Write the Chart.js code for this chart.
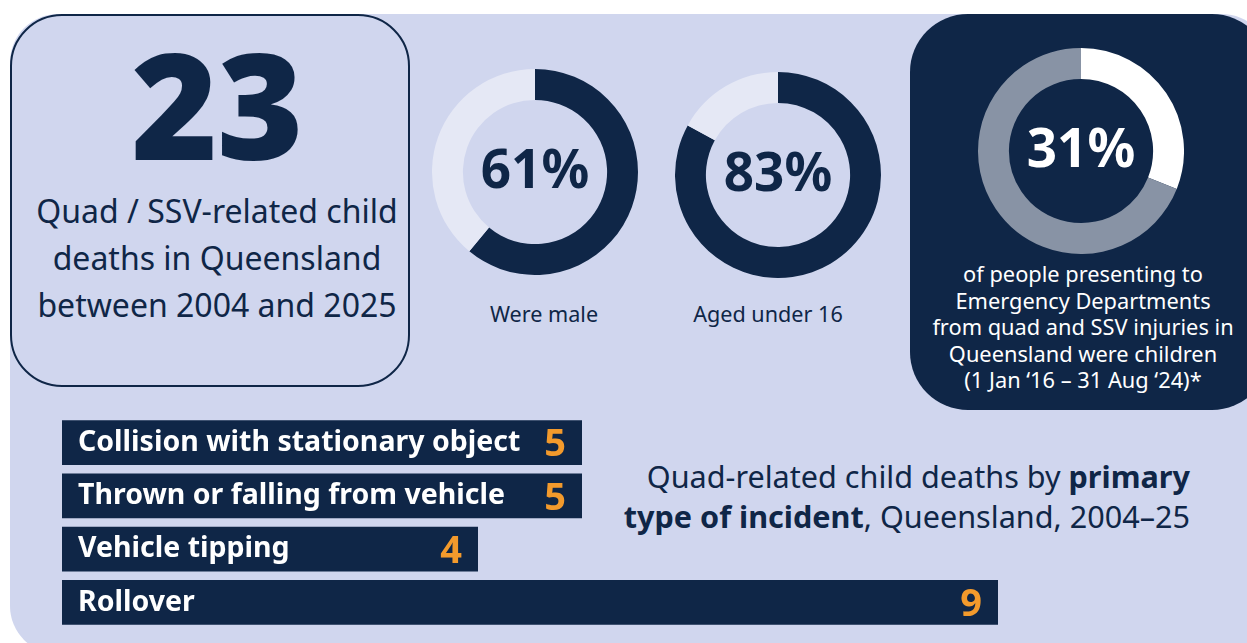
<!DOCTYPE html>
<html>
<head>
<meta charset="utf-8">
<script src="https://cdn.jsdelivr.net/npm/chart.js@4.4.1/dist/chart.umd.min.js"></script>
<style>
  html, body { margin: 0; padding: 0; background: #ffffff; }
  body { width: 1247px; height: 643px; position: relative; overflow: hidden; font-family: "Noto Sans", "Open Sans", sans-serif; color: #0F2647; }
  .panel { position: absolute; left: 10px; top: 14px; width: 1260px; height: 640px; background: #D0D6EE; border-radius: 48px; }
  .box23 { position: absolute; left: 10px; top: 14px; width: 396px; height: 369px; border: 2px solid #0F2647; border-radius: 52px; background: #D0D6EE; }
  .big { position: absolute; left: 5px; width: 400px; top: -3px; text-align: center; font-size: 148px; font-weight: 900; line-height: 180px; letter-spacing: -1px; }
  .desc { position: absolute; left: 6px; width: 398px; top: 171px; text-align: center; font-size: 32px; line-height: 47px; }
  .darkbox { position: absolute; left: 910px; top: 14px; width: 360px; height: 396px; background: #0F2647; border-radius: 58px; }
  .edtext { position: absolute; left: 910px; width: 346px; top: 261px; text-align: center; color: #ffffff; font-size: 21.8px; line-height: 26.5px; }
  .cap { position: absolute; top: 299px; font-size: 21.6px; text-align: center; width: 220px; }
  .title { position: absolute; right: 57px; top: 456px; text-align: right; font-size: 30.6px; line-height: 40px; }
  canvas { position: absolute; }
</style>
</head>
<body>
<div class="panel"></div>
<div class="box23">
  <div class="big" id="total"></div>
  <div class="desc">Quad / SSV-related child<br>deaths in Queensland<br>between 2004 and 2025</div>
</div>
<div class="darkbox"></div>

<canvas id="maleChart" width="206" height="206" style="left:432px; top:69px;"></canvas>
<canvas id="ageChart" width="206" height="206" style="left:675px; top:72px;"></canvas>
<canvas id="edChart" width="206" height="206" style="left:978px; top:48px;"></canvas>

<div class="cap" id="cap0" style="left:434px;"></div>
<div class="cap" id="cap1" style="left:658px;"></div>

<div class="edtext">of people presenting to<br>Emergency Departments<br>from quad and SSV injuries in<br>Queensland were children<br>(1 Jan ‘16 – 31 Aug ‘24)*</div>

<div class="title">Quad-related child deaths by <b>primary<br>type of incident</b>, Queensland, 2004–25</div>

<canvas id="barChart" width="936" height="213" style="left:62px; top:416px;"></canvas>

<script>
// Data
const totalDeaths = 23;

const donutCaptions = ['Were male', 'Aged under 16'];
const malePct = [61, 39];
const under16Pct = [83, 17];
const edChildPct = [31, 69];

const incidentTypes = ['Collision with stationary object', 'Thrown or falling from vehicle', 'Vehicle tipping', 'Rollover'];
const incidentDeaths = [5, 5, 4, 9];

const NAVY = '#0F2647';
const LIGHT = '#E5E8F5';
const ORANGE = '#F39A2C';
const FONT = '"Noto Sans", "Open Sans", sans-serif';

document.getElementById('total').textContent = totalDeaths;
document.getElementById('cap0').textContent = donutCaptions[0];
document.getElementById('cap1').textContent = donutCaptions[1];

// text in the middle of a doughnut
const centerText = {
    id: 'centerText',
    afterDraw(chart, args, opts) {
        const ctx = chart.ctx;
        const meta = chart.getDatasetMeta(0).data[0];
        ctx.save();
        ctx.fillStyle = opts.color;
        ctx.font = 'bold 53px ' + FONT;
        ctx.textAlign = 'center';
        ctx.textBaseline = 'middle';
        ctx.fillText(chart.data.datasets[0].data[0] + '%', meta.x, meta.y + 1);
        ctx.restore();
    }
};

function makeDonut(id, values, colors, textColor) {
    new Chart(document.getElementById(id), {
        type: 'doughnut',
        data: {
            labels: ['Yes', 'No'],
            datasets: [{
                data: values,
                backgroundColor: colors,
                borderWidth: 0
            }]
        },
        options: {
            responsive: false,
            animation: false,
            cutout: '70%',
            plugins: {
                legend: { display: false },
                tooltip: { enabled: false },
                centerText: { color: textColor }
            }
        },
        plugins: [centerText]
    });
}

makeDonut('maleChart', malePct, [NAVY, LIGHT], NAVY);
makeDonut('ageChart', under16Pct, [NAVY, LIGHT], NAVY);
makeDonut('edChart', edChildPct, ['#ffffff', '#8893A5'], '#ffffff');

// labels + values written inside the bars
const barLabels = {
    id: 'barLabels',
    afterDatasetsDraw(chart) {
        const ctx = chart.ctx;
        const bars = chart.getDatasetMeta(0).data;
        ctx.save();
        ctx.textBaseline = 'middle';
        bars.forEach((bar, i) => {
            ctx.fillStyle = '#ffffff';
            ctx.textAlign = 'left';
            ctx.font = 'bold 28.5px ' + FONT;
            ctx.fillText(chart.data.labels[i], bar.base + 16, bar.y);
            ctx.fillStyle = ORANGE;
            ctx.textAlign = 'right';
            ctx.font = 'bold 38px ' + FONT;
            ctx.fillText(chart.data.datasets[0].data[i], bar.x - 16, bar.y + 3);
        });
        ctx.restore();
    }
};

new Chart(document.getElementById('barChart'), {
    type: 'bar',
    data: {
        labels: incidentTypes,
        datasets: [{
            data: incidentDeaths,
            backgroundColor: NAVY,
            borderWidth: 0,
            categoryPercentage: 1,
            barPercentage: 0.845
        }]
    },
    options: {
        indexAxis: 'y',
        responsive: false,
        animation: false,
        layout: { padding: 0 },
        scales: {
            x: { display: false, min: 0, max: 9 },
            y: { display: false }
        },
        plugins: {
            legend: { display: false },
            tooltip: { enabled: false }
        }
    },
    plugins: [barLabels]
});
</script>
</body>
</html>
